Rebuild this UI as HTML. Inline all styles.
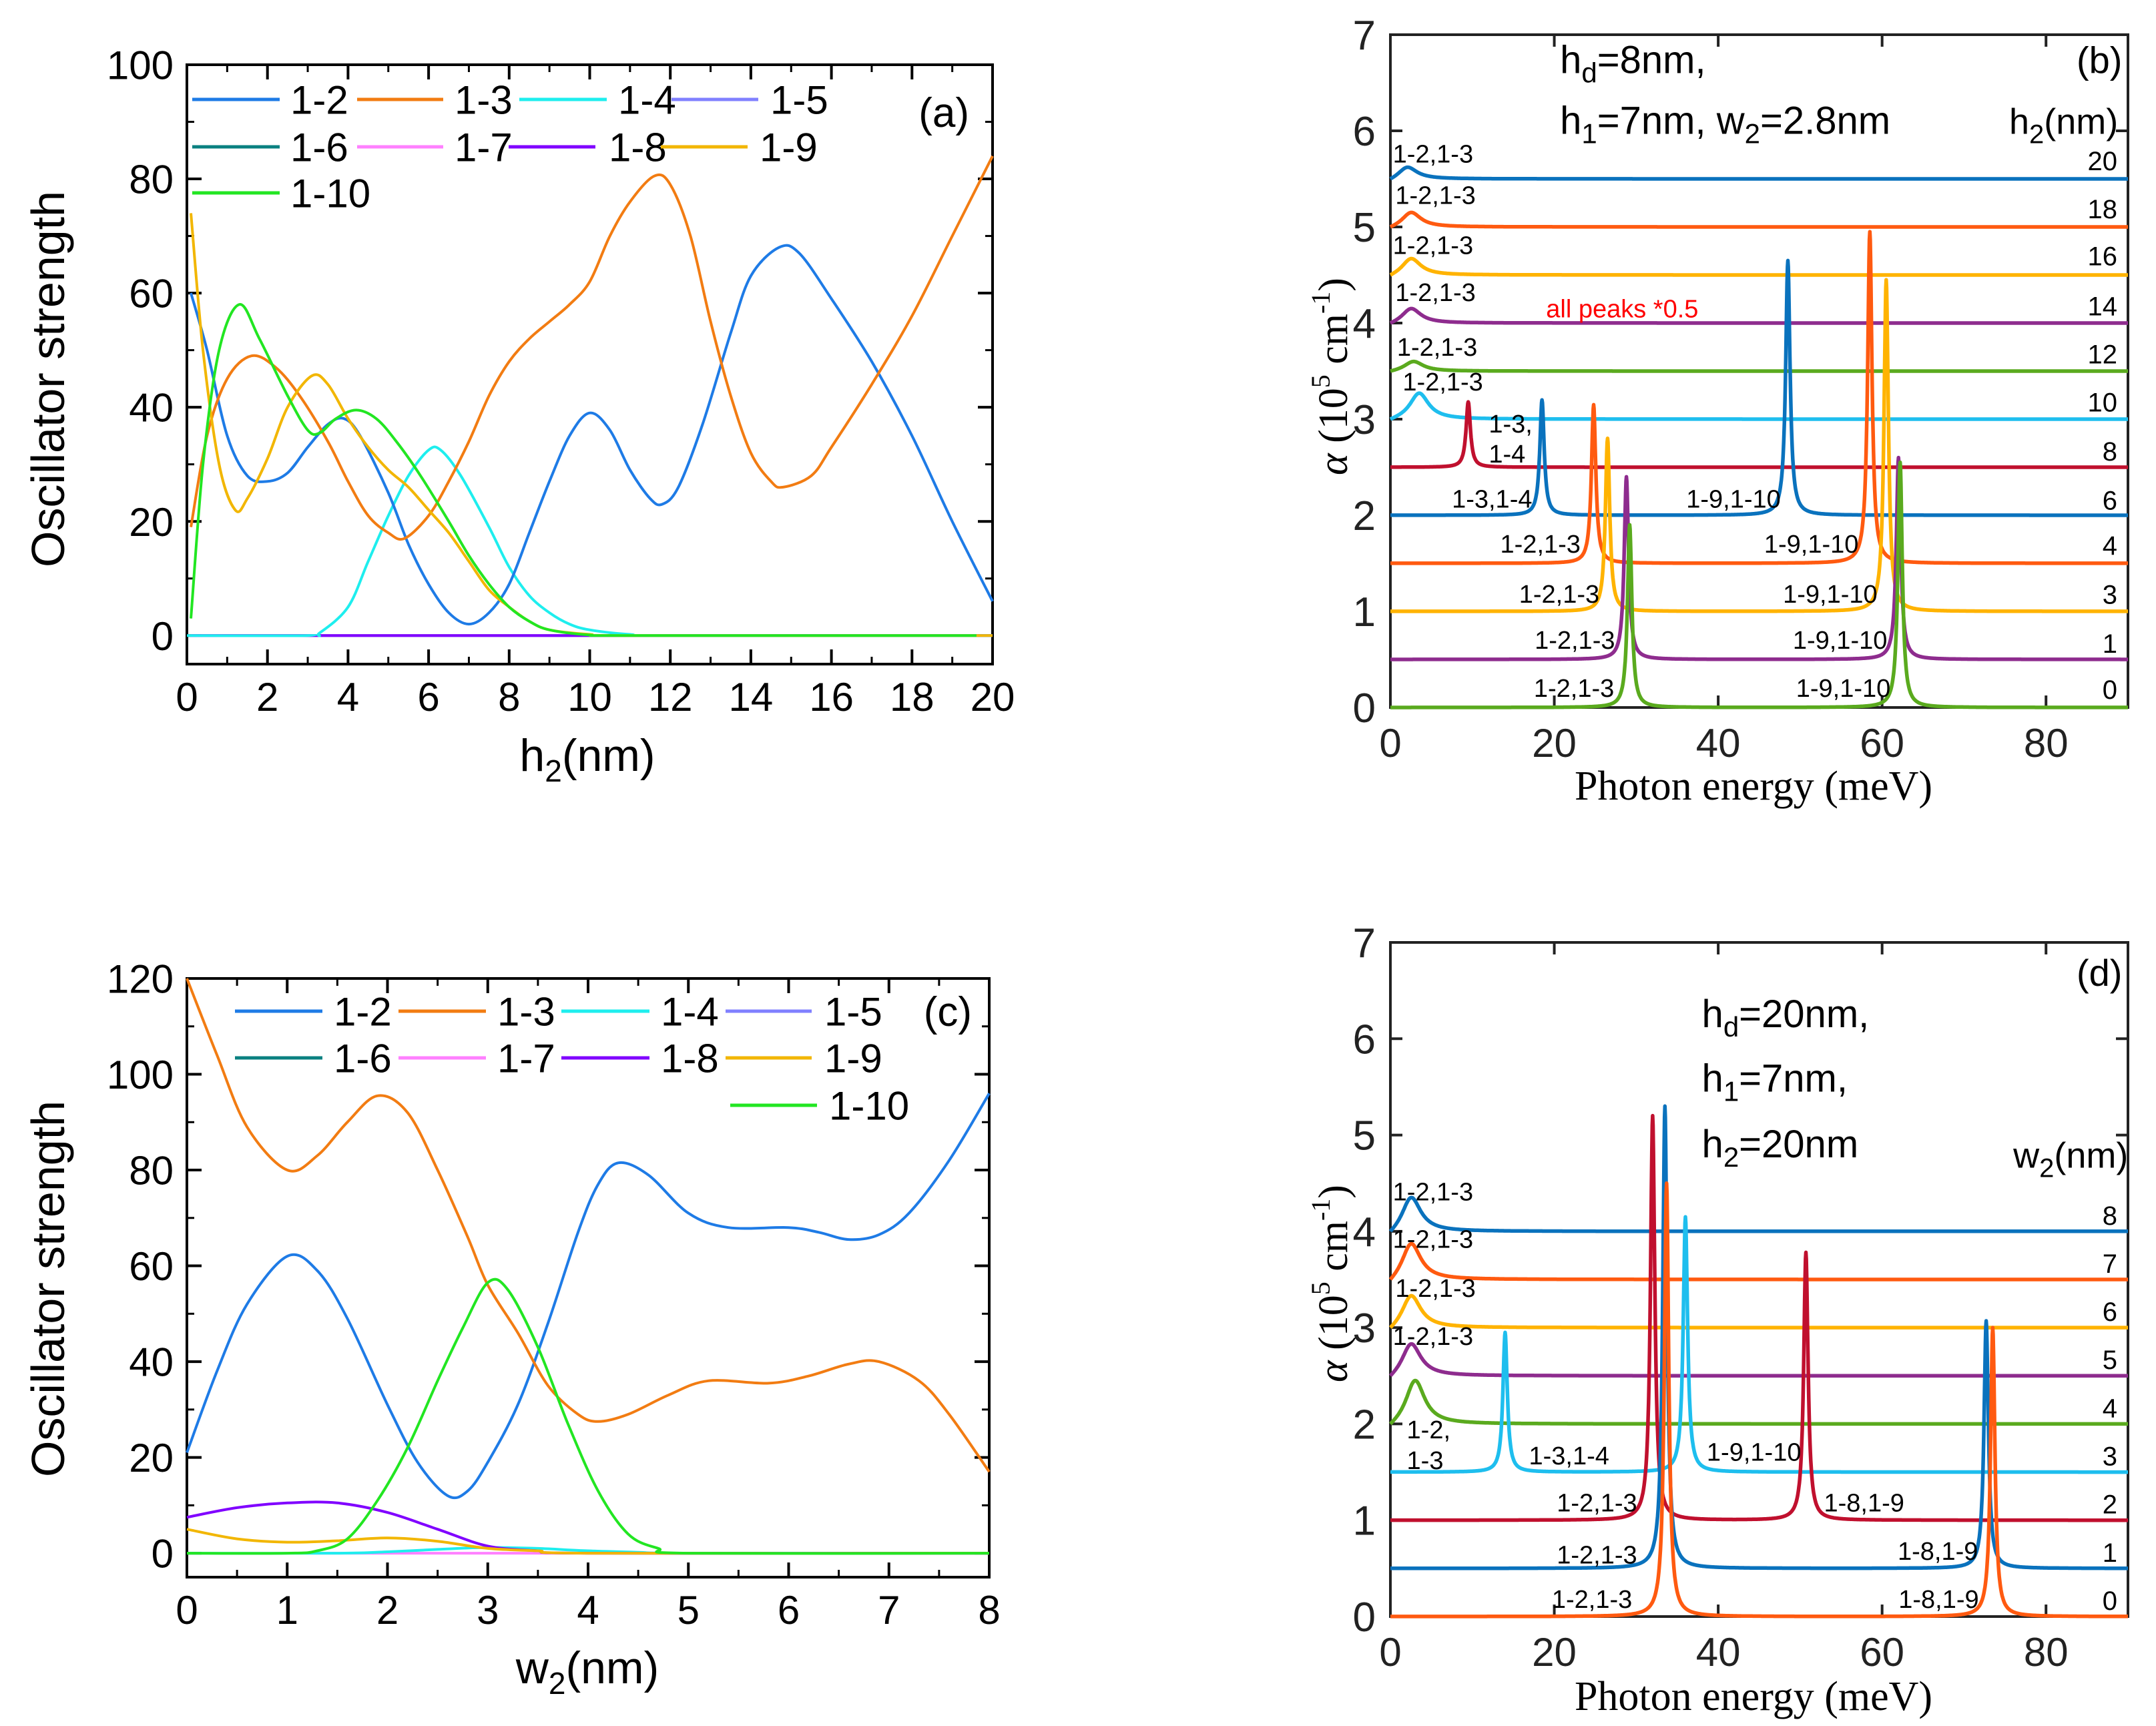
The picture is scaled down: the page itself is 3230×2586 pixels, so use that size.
<!DOCTYPE html>
<html><head><meta charset="utf-8">
<style>
html,body{margin:0;padding:0;background:#fff;}
svg{display:block;}
text{font-family:"Liberation Sans",sans-serif;}
.serif{font-family:"Liberation Serif",serif;}
</style></head>
<body>
<svg id="fig" width="3230" height="2586" viewBox="0 0 3230 2586" xmlns="http://www.w3.org/2000/svg"></svg>
<script>
// ---------- Panel (a) data: oscillator strength vs h2 ----------
const aX12=[0.1,0.5,1,1.5,2,2.5,3,3.5,3.9,4.3,5,5.5,6,6.5,7,7.5,8,8.5,9,9.5,10,10.5,11,11.5,11.8,12.2,12.8,13.5,14,14.7,15.2,16,17,18,19,20];
const aY12=[60,50,35,28,27,28.5,33,37,38,35,25,16,9,4,2,4,9,18,27,35,39,36,29,24,23,26,37,53,63,68,67,59,48,35,20,6];
const aX13=[0.1,0.5,1,1.6,2.2,2.8,3.5,4,4.5,5,5.4,6,6.5,7,7.5,8,8.5,9,9.5,10,10.5,11,11.6,12,12.5,13,13.5,14,14.5,14.8,15.5,16,17,18,19,20];
const aY13=[19,35,45,49,47,42,34,27,21,18,17,21,27,34,42,48,52,55,58,62,70,76,80.5,79,70,55,42,32,27,26,28,33,44,56,70,84];
const aX14=[0,3,3.3,4,4.5,5,5.5,6,6.3,6.8,7.5,8,8.5,9,9.5,10,11,12,20];
const aY14=[0,0,0.5,5,13,21,28,32.5,32.5,28,19,12,7,4,2,1,0.2,0,0];
const aX19=[0.1,0.4,0.8,1.2,1.5,2,2.5,3.1,3.5,4,4.5,5,5.5,6,6.5,7,7.5,8,8.5,9,10,11,20];
const aY19=[74,50,30,22,24,31,40,45.5,44,38,33,29,26,22,18,13,8,5,2.5,1,0.2,0,0];
const aX110=[0.1,0.4,0.8,1.3,1.8,2.5,3,3.3,3.7,4.2,4.7,5.2,5.8,6.5,7,7.5,8,8.5,9,10,11,19.6];
const aY110=[3,30,50,58,52,42,36,35.5,38,39.5,38,34,28,20,14,9,5,2.5,1,0.1,0,0];
const aXflat=[0.1,20];
const aYflat=[0,0];
// ---------- Panel (c) data: oscillator strength vs w2 ----------
const cX12=[0,0.3,0.6,1,1.3,1.6,2,2.3,2.6,2.8,3,3.3,3.6,3.9,4.1,4.3,4.6,5,5.4,6,6.3,6.6,6.9,7.2,7.6,8];
const cY12=[21,38,52,62,59,49,31,19,12,13,19,31,48,67,77,81.5,79,71,68,68,67,65.5,66.5,71,82,96];
const cX13=[0,0.3,0.6,1,1.3,1.6,1.9,2.2,2.5,2.8,3,3.3,3.6,3.9,4.1,4.4,4.8,5.2,5.8,6.2,6.6,6.9,7.3,7.6,8];
const cY13=[120,104,89,80,83,90,95.5,92,80,66,56,46,35,29,27.5,29,33,36,35.5,37,39.5,40,36,29,17];
const cX110=[0,1,1.3,1.6,1.9,2.2,2.5,2.75,3,3.2,3.5,3.8,4.1,4.4,4.7,5,8];
const cY110=[0,0,0.5,3,11,22,36,47,56.5,55,43,27,13,4,1,0,0];
const cX18=[0,0.5,1,1.5,2,2.5,3,3.5,4,8];
const cY18=[7.5,9.5,10.5,10.5,8.5,5,1.5,0.5,0,0];
const cX19=[0,0.5,1,1.5,2,2.5,3,3.5,4,8];
const cY19=[5,3,2.3,2.6,3.2,2.5,1,0.5,0,0];
const cX14=[0,1.5,2,2.5,3,3.5,4,4.5,5,8];
const cY14=[0,0,0.3,0.8,1.2,1,0.5,0.2,0,0];
const cX17=[1.2,8];
const cY17=[0,0];
// ---------- Panel (b) spectra: offsets, peak energies, peak heights ----------
const bH2=["20","18","16","14","12","10","8","6","4","3","1","0"];
const bOffset=[5.5,5.0,4.5,4.0,3.5,3.0,2.5,2.0,1.5,1.0,0.5,0];
const bPeakE=[[2],[2.5],[2.5],[2.5],[2.8],[3.5],[9.5],[18.5,48.5],[24.8,58.5],[26.5,60.5],[28.8,62],[29.2,62.2]];
const bPeakH=[[0.12],[0.15],[0.17],[0.15],[0.1],[0.27],[0.68],[1.2,2.65],[1.65,3.45],[1.8,3.45],[1.9,2.1],[1.9,2.55]];
// ---------- Panel (d) spectra ----------
const dW2=["8","7","6","5","4","3","2","1","0"];
const dOffset=[4.0,3.5,3.0,2.5,2.0,1.5,1.0,0.5,0];
const dPeakE=[[2.5],[2.5],[2.5],[2.5],[3.0],[14,36],[32,50.7],[33.5,72.7],[33.7,73.5]];
const dPeakH=[[0.35],[0.37],[0.33],[0.33],[0.45],[1.45,2.65],[4.2,2.78],[4.8,2.57],[4.5,3.0]];

const NS="http://www.w3.org/2000/svg";
const svg=document.getElementById('fig');
function mk(tag,attrs,parent){const e=document.createElementNS(NS,tag);for(const k in attrs)e.setAttribute(k,attrs[k]);(parent||svg).appendChild(e);return e;}
function scales(p){return {sx:v=>p.L+(v-p.xmin)/(p.xmax-p.xmin)*(p.R-p.L), sy:v=>p.B-(v-p.ymin)/(p.ymax-p.ymin)*(p.B-p.T)};}
function smoothPath(pts){let d='M'+pts[0][0].toFixed(1)+','+pts[0][1].toFixed(1);
 for(let i=0;i<pts.length-1;i++){const p0=pts[i-1]||pts[i],p1=pts[i],p2=pts[i+1],p3=pts[i+2]||p2;
  const c1=[p1[0]+(p2[0]-p0[0])/6,p1[1]+(p2[1]-p0[1])/6],c2=[p2[0]-(p3[0]-p1[0])/6,p2[1]-(p3[1]-p1[1])/6];
  d+=' C'+c1[0].toFixed(1)+','+c1[1].toFixed(1)+' '+c2[0].toFixed(1)+','+c2[1].toFixed(1)+' '+p2[0].toFixed(1)+','+p2[1].toFixed(1);}
 return d;}
function txt(x,y,s,attrs,parent){const t=mk('text',Object.assign({x:x,y:y},attrs||{}),parent);t.textContent=s;return t;}

function frame(p,g,xt,yt,xminor,yminor,fs,lblXoff,tickLen){
 const {sx,sy}=scales(p);
 const ax=mk('rect',{x:p.L,y:p.T,width:p.R-p.L,height:p.B-p.T,fill:'none',stroke:'#000','stroke-width':4},g);
 
 xt.forEach(v=>{const X=sx(v);
  mk('line',{x1:X,y1:p.B,x2:X,y2:p.B-tickLen,stroke:'#000','stroke-width':4},g);
  mk('line',{x1:X,y1:p.T,x2:X,y2:p.T+tickLen,stroke:'#000','stroke-width':4},g);
  const t=txt(X,p.B+lblXoff,String(v),{'font-size':fs,'text-anchor':'middle'},g);
  });
 (xminor||[]).forEach(v=>{const X=sx(v);
  mk('line',{x1:X,y1:p.B,x2:X,y2:p.B-tickLen/2,stroke:'#000','stroke-width':3},g);
  mk('line',{x1:X,y1:p.T,x2:X,y2:p.T+tickLen/2,stroke:'#000','stroke-width':3},g);});
 yt.forEach(v=>{const Y=sy(v);
  mk('line',{x1:p.L,y1:Y,x2:p.L+tickLen,y2:Y,stroke:'#000','stroke-width':4},g);
  mk('line',{x1:p.R,y1:Y,x2:p.R-tickLen,y2:Y,stroke:'#000','stroke-width':4},g);
  const t=txt(p.L-20,Y+fs*0.36,String(v),{'font-size':fs,'text-anchor':'end'},g);
  });
 (yminor||[]).forEach(v=>{const Y=sy(v);
  mk('line',{x1:p.L,y1:Y,x2:p.L+tickLen/2,y2:Y,stroke:'#000','stroke-width':3},g);
  mk('line',{x1:p.R,y1:Y,x2:p.R-tickLen/2,y2:Y,stroke:'#000','stroke-width':3},g);});
 return {sx,sy};
}
const COL={c12:'#1E7BE6',c13:'#F27C12',c14:'#1EEEEE',c15:'#8080FF',c16:'#0A8080',c17:'#FF80FF',c18:'#8000FF',c19:'#F2B600',c110:'#22E622'};

function curve(g,sx,sy,xs,ys,color,name,w){
 const pts=xs.map((x,i)=>[sx(x),sy(ys[i])]);
 const p=mk('path',{d:smoothPath(pts),fill:'none',stroke:color,'stroke-width':w||4,'stroke-linejoin':'round'},g);
 
}
function legend(g,items,fs){
 items.forEach(it=>{
  const l=mk('line',{x1:it[0],y1:it[2],x2:it[1],y2:it[2],stroke:it[4],'stroke-width':5},g);
  
  const t=txt(it[5],it[2]+fs*0.36,it[3],{'font-size':fs},g);
  
 });
}

// ===== Panel (a) =====
(function(){
 const g=mk('g',{});
 const p={L:280,R:1487,T:97,B:995,xmin:0,xmax:20,ymin:-5,ymax:100};
 const {sx,sy}=frame(p,g,[0,2,4,6,8,10,12,14,16,18,20],[0,20,40,60,80,100],[1,3,5,7,9,11,13,15,17,19],[10,30,50,70,90],60,70,22);
 curve(g,sx,sy,aXflat,aYflat,COL.c15,'series-1-5');
 curve(g,sx,sy,aXflat,aYflat,COL.c16,'series-1-6');
 curve(g,sx,sy,aXflat,aYflat,COL.c17,'series-1-7');
 curve(g,sx,sy,aXflat,aYflat,COL.c18,'series-1-8');
 curve(g,sx,sy,aX14,aY14,COL.c14,'series-1-4');
 curve(g,sx,sy,aX12,aY12,COL.c12,'series-1-2');
 curve(g,sx,sy,aX13,aY13,COL.c13,'series-1-3');
 curve(g,sx,sy,aX19,aY19,COL.c19,'series-1-9');
 curve(g,sx,sy,aX110,aY110,COL.c110,'series-1-10');
 legend(g,[[288,419,149,'1-2',COL.c12,435],[535,664,149,'1-3',COL.c13,681],[778,909,149,'1-4',COL.c14,926],[1006,1136,149,'1-5',COL.c15,1154],
  [288,419,220,'1-6',COL.c16,435],[535,664,220,'1-7',COL.c17,681],[762,892,220,'1-8',COL.c18,912],[990,1120,220,'1-9',COL.c19,1138],
  [288,419,289,'1-10',COL.c110,435]],60);
 let t=txt(1452,190,'(a)',{'font-size':62,'text-anchor':'end'},g);
 t=mk('text',{x:0,y:0,'font-size':70,'text-anchor':'middle',transform:'translate(96,568) rotate(-90)'},g);t.textContent='Oscillator strength';
 
 t=mk('text',{x:880,y:1155,'font-size':68,'text-anchor':'middle'},g);
 t.innerHTML='h<tspan font-size="46" dy="16">2</tspan><tspan dy="-16">(nm)</tspan>';
 
})();

// ===== Panel (c) =====
(function(){
 const g=mk('g',{});
 const p={L:280,R:1482,T:1466,B:2363,xmin:0,xmax:8,ymin:-5,ymax:120};
 const {sx,sy}=frame(p,g,[0,1,2,3,4,5,6,7,8],[0,20,40,60,80,100,120],[0.5,1.5,2.5,3.5,4.5,5.5,6.5,7.5],[10,30,50,70,90,110],60,70,22);
 curve(g,sx,sy,cX17,cY17,COL.c17,'series-1-7');
 curve(g,sx,sy,cX14,cY14,COL.c14,'series-1-4');
 curve(g,sx,sy,cX18,cY18,COL.c18,'series-1-8');
 curve(g,sx,sy,cX19,cY19,COL.c19,'series-1-9');
 curve(g,sx,sy,cX12,cY12,COL.c12,'series-1-2');
 curve(g,sx,sy,cX13,cY13,COL.c13,'series-1-3');
 curve(g,sx,sy,cX110,cY110,COL.c110,'series-1-10');
 legend(g,[[352,483,1515,'1-2',COL.c12,500],[597,728,1515,'1-3',COL.c13,745],[841,973,1515,'1-4',COL.c14,990],[1087,1216,1515,'1-5',COL.c15,1235],
  [352,483,1585,'1-6',COL.c16,500],[597,728,1585,'1-7',COL.c17,745],[841,973,1585,'1-8',COL.c18,990],[1087,1216,1585,'1-9',COL.c19,1235],
  [1094,1224,1656,'1-10',COL.c110,1242]],60);
 let t=txt(1456,1537,'(c)',{'font-size':62,'text-anchor':'end'},g);
 t=mk('text',{x:0,y:0,'font-size':70,'text-anchor':'middle',transform:'translate(96,1931) rotate(-90)'},g);t.textContent='Oscillator strength';
 
 t=mk('text',{x:880,y:2522,'font-size':68,'text-anchor':'middle'},g);
 t.innerHTML='w<tspan font-size="46" dy="16">2</tspan><tspan dy="-16">(nm)</tspan>';
 
})();

// ===== spectra panels =====
const SCOL={blue:'#0A72BD',orange:'#FF5A10',yellow:'#FFB300',purple:'#8E2C8E',green:'#5AAA1E',cyan:'#1EBEEE',crimson:'#C0102E'};
function spectrum(E,H,off,x){let y=off;for(let i=0;i<E.length;i++){const low=E[i]<5;const gm=low?1.4:0.32;
 let v=H[i]*gm*gm/((x-E[i])*(x-E[i])+gm*gm);if(low)v*=(1-Math.exp(-x/0.9))/(1-Math.exp(-E[i]/0.9));y+=v;}return y;}
function spectraPanel(name,p,offs,E,H,cols,valLabels,valY){
 const g=mk('g',{});
 const {sx,sy}=scales(p);
 mk('rect',{x:p.L,y:p.T,width:p.R-p.L,height:p.B-p.T,fill:'none',stroke:'#222','stroke-width':4},g);
 [0,20,40,60,80].forEach(v=>{const X=sx(v);
  mk('line',{x1:X,y1:p.B,x2:X,y2:p.B-18,stroke:'#222','stroke-width':4},g);
  mk('line',{x1:X,y1:p.T,x2:X,y2:p.T+18,stroke:'#222','stroke-width':4},g);
  const t=txt(X,p.B+74,String(v),{'font-size':60,'text-anchor':'middle',fill:'#222'},g);
  });
 [0,1,2,3,4,5,6,7].forEach(v=>{const Y=sy(v);
  mk('line',{x1:p.L,y1:Y,x2:p.L+18,y2:Y,stroke:'#222','stroke-width':4},g);
  mk('line',{x1:p.R,y1:Y,x2:p.R-18,y2:Y,stroke:'#222','stroke-width':4},g);
  const t=txt(p.L-22,Y+22,String(v),{'font-size':62,'text-anchor':'end',fill:'#222'},g);
  });
 for(let k=0;k<offs.length;k++){
  let xs=[];for(let x=0;x<=90.0001;x+=0.05)xs.push(+x.toFixed(3));
  E[k].forEach(e=>xs.push(e));xs.sort((a,b)=>a-b);
  let d='';xs.forEach((x,i)=>{d+=(i?'L':'M')+sx(x).toFixed(1)+','+sy(spectrum(E[k],H[k],offs[k],x)).toFixed(1);});
  const path=mk('path',{d:d,fill:'none',stroke:cols[k],'stroke-width':5.5,'stroke-linejoin':'round'},g);
  
  const t=txt(p.R-16,sy(valY[k]),valLabels[k],{'font-size':40,'text-anchor':'end'},g);
  
 }
 return {g,sx,sy};
}
function lbl(g,sx,sy,x,y,s,fs,extra){const t=txt(sx(x),sy(y),s,Object.assign({'font-size':fs||38},extra||{}),g);
 return t;}

// ===== Panel (b) =====
(function(){
 const p={L:2083,R:3188,T:52,B:1060,xmin:0,xmax:90,ymin:0,ymax:7};
 const cols=[SCOL.blue,SCOL.orange,SCOL.yellow,SCOL.purple,SCOL.green,SCOL.cyan,SCOL.crimson,SCOL.blue,SCOL.orange,SCOL.yellow,SCOL.purple,SCOL.green];
 const valY=[5.59,5.09,4.6,4.08,3.58,3.08,2.57,2.06,1.59,1.08,0.57,0.09];
 const {g,sx,sy}=spectraPanel('panel-b',p,bOffset,bPeakE,bPeakH,cols,bH2,valY);
 [[0.3,5.67],[0.6,5.24],[0.3,4.72],[0.6,4.23],[0.8,3.66],[1.5,3.3]].forEach(a=>lbl(g,sx,sy,a[0],a[1],'1-2,1-3'));
 lbl(g,sx,sy,12.0,2.86,'1-3,');lbl(g,sx,sy,12.0,2.55,'1-4');
 lbl(g,sx,sy,7.5,2.08,'1-3,1-4');lbl(g,sx,sy,36.1,2.08,'1-9,1-10');
 lbl(g,sx,sy,13.4,1.61,'1-2,1-3');lbl(g,sx,sy,45.6,1.61,'1-9,1-10');
 lbl(g,sx,sy,15.7,1.09,'1-2,1-3');lbl(g,sx,sy,47.9,1.09,'1-9,1-10');
 lbl(g,sx,sy,17.6,0.61,'1-2,1-3');lbl(g,sx,sy,49.1,0.61,'1-9,1-10');
 lbl(g,sx,sy,17.5,0.11,'1-2,1-3');lbl(g,sx,sy,49.5,0.11,'1-9,1-10');
 let t=lbl(g,sx,sy,19.0,4.06,'all peaks *0.5',38,{fill:'#FF0000'});
 t=mk('text',{x:sx(20.7),y:sy(6.6),'font-size':58},g);t.innerHTML='h<tspan font-size="42" dy="14">d</tspan><tspan dy="-14">=8nm,</tspan>';
 t=mk('text',{x:sx(20.7),y:sy(5.97),'font-size':58},g);t.innerHTML='h<tspan font-size="42" dy="14">1</tspan><tspan dy="-14">=7nm, w</tspan><tspan font-size="42" dy="14">2</tspan><tspan dy="-14">=2.8nm</tspan>';
 t=mk('text',{x:sx(75.5),y:sy(5.97),'font-size':54},g);t.innerHTML='h<tspan font-size="40" dy="14">2</tspan><tspan dy="-14">(nm)</tspan>';
 t=txt(sx(89.3),sy(6.6),'(b)',{'font-size':56,'text-anchor':'end'},g);
 t=mk('text',{x:0,y:0,'font-size':62,'text-anchor':'middle',class:'serif',transform:'translate(2018,564) rotate(-90)'},g);
 t.innerHTML='<tspan font-style="italic">α</tspan> (10<tspan font-size="40" dy="-26">5</tspan><tspan dy="26"> cm</tspan><tspan font-size="40" dy="-26">-1</tspan><tspan dy="26">)</tspan>';
 
 t=txt(2627,1198,'Photon energy (meV)',{'font-size':62,'text-anchor':'middle',class:'serif'},g);
})();

// ===== Panel (d) =====
(function(){
 const p={L:2083,R:3188,T:1412,B:2422,xmin:0,xmax:90,ymin:0,ymax:7};
 const cols=[SCOL.blue,SCOL.orange,SCOL.yellow,SCOL.purple,SCOL.green,SCOL.cyan,SCOL.crimson,SCOL.blue,SCOL.orange];
 const valY=[4.07,3.57,3.07,2.57,2.07,1.57,1.07,0.57,0.07];
 const {g,sx,sy}=spectraPanel('panel-d',p,dOffset,dPeakE,dPeakH,cols,dW2,valY);
 [[0.3,4.32],[0.3,3.83],[0.6,3.32],[0.3,2.82]].forEach(a=>lbl(g,sx,sy,a[0],a[1],'1-2,1-3'));
 lbl(g,sx,sy,2.0,1.85,'1-2,');lbl(g,sx,sy,2.0,1.53,'1-3');
 lbl(g,sx,sy,16.9,1.58,'1-3,1-4');lbl(g,sx,sy,38.6,1.62,'1-9,1-10');
 lbl(g,sx,sy,20.3,1.09,'1-2,1-3');lbl(g,sx,sy,52.9,1.09,'1-8,1-9');
 lbl(g,sx,sy,20.3,0.55,'1-2,1-3');lbl(g,sx,sy,61.9,0.59,'1-8,1-9');
 lbl(g,sx,sy,19.7,0.09,'1-2,1-3');lbl(g,sx,sy,62.0,0.09,'1-8,1-9');
 let t=mk('text',{x:sx(38),y:sy(6.12),'font-size':58},g);t.innerHTML='h<tspan font-size="42" dy="14">d</tspan><tspan dy="-14">=20nm,</tspan>';
 t=mk('text',{x:sx(38),y:sy(5.45),'font-size':58},g);t.innerHTML='h<tspan font-size="42" dy="14">1</tspan><tspan dy="-14">=7nm,</tspan>';
 t=mk('text',{x:sx(38),y:sy(4.77),'font-size':58},g);t.innerHTML='h<tspan font-size="42" dy="14">2</tspan><tspan dy="-14">=20nm</tspan>';
 t=mk('text',{x:sx(76),y:sy(4.66),'font-size':54},g);t.innerHTML='w<tspan font-size="40" dy="14">2</tspan><tspan dy="-14">(nm)</tspan>';
 t=txt(sx(89.3),sy(6.55),'(d)',{'font-size':56,'text-anchor':'end'},g);
 t=mk('text',{x:0,y:0,'font-size':62,'text-anchor':'middle',class:'serif',transform:'translate(2018,1923) rotate(-90)'},g);
 t.innerHTML='<tspan font-style="italic">α</tspan> (10<tspan font-size="40" dy="-26">5</tspan><tspan dy="26"> cm</tspan><tspan font-size="40" dy="-26">-1</tspan><tspan dy="26">)</tspan>';
 
 t=txt(2627,2562,'Photon energy (meV)',{'font-size':62,'text-anchor':'middle',class:'serif'},g);
})();
</script>
</body></html>
